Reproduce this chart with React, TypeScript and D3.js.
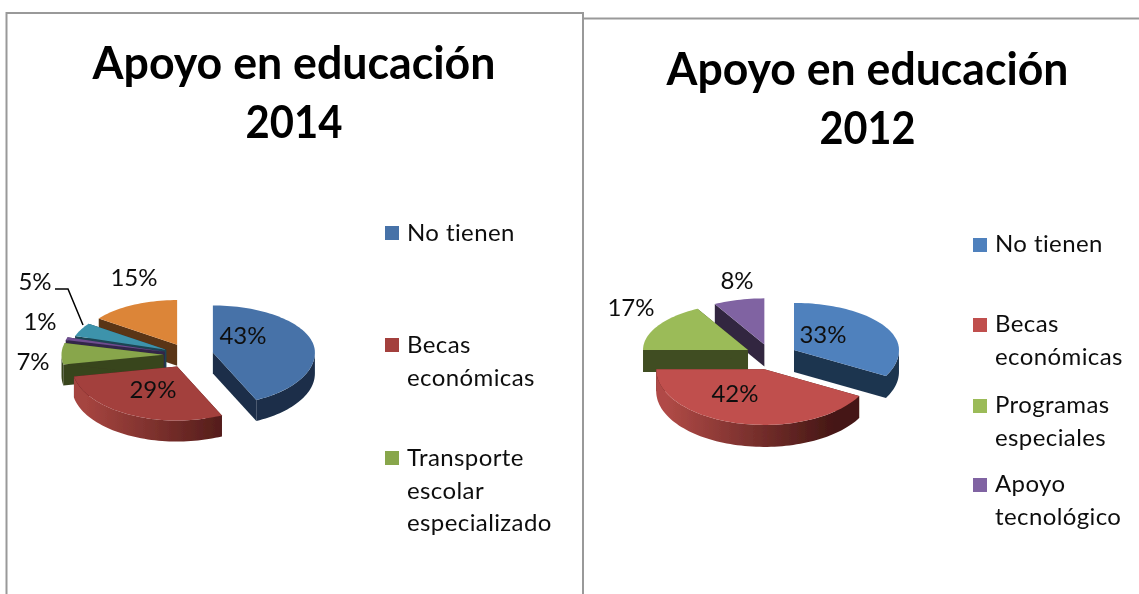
import React from "react";
import * as d3 from "d3";

const title2014 = ["Apoyo en educación", "2014"];
const title2012 = ["Apoyo en educación", "2012"];
const values2014 = [43, 29, 7, 1, 5, 15];
const values2012 = [33, 42, 17, 8];
const labels2014 = ["43%", "29%", "7%", "1%", "5%", "15%"];
const labels2012 = ["33%", "42%", "17%", "8%"];
const legend2014 = [["No tienen"], ["Becas", "económicas"], ["Transporte", "escolar", "especializado"]];
const legend2012 = [["No tienen"], ["Becas", "económicas"], ["Programas", "especiales"], ["Apoyo", "tecnológico"]];

const FONT = "Lato, 'Open Sans', sans-serif";
const W = 1139, H = 594;

type Style = { top: string; side: string };
const styles2014: Style[] = [
  { top: "#4672a8", side: "#1b2f49" },
  { top: "#a33f3d", side: "#4a1a17" },
  { top: "#88a64b", side: "#39441f" },
  { top: "#6e4d8f", side: "#33264a" },
  { top: "#3e93ab", side: "#1d4452" },
  { top: "#dc8539", side: "#5a3415" },
];
const styles2012: Style[] = [
  { top: "#4f81bd", side: "#1f3550" },
  { top: "#c0504d", side: "#4f1c1a" },
  { top: "#9bbb59", side: "#414d21" },
  { top: "#8064a2", side: "#32283f" },
];

type PieCfg = {
  id: string; values: number[]; styles: Style[]; order: number[]; redIndex: number; scale: number[];
  cx: number; cy: number; R: number; ryBack: number; ryFront: number; depth: number; explode: number;
  gradFrom: string; gradTo: string;
};

function Pie3D({ cfg }: { cfg: PieCfg }) {
  const arcs = d3.pie<number>().sort(null).startAngle(0).endAngle(2 * Math.PI)(cfg.values);
  const k = (t: number, r: number) => r * (Math.cos(t) > 0 ? cfg.ryBack : cfg.ryFront) / cfg.R;
  const px = (t: number, r: number) => r * Math.sin(t);
  const py = (t: number, r: number) => -k(t, r) * Math.cos(t);
  const line = d3.line<[number, number]>().curve(d3.curveLinear);
  const samples = (a: number, b: number) => {
    const n = Math.max(2, Math.ceil(((b - a) * 180) / Math.PI / 2));
    return d3.range(n + 1).map((i) => a + ((b - a) * i) / n);
  };
  const pieLeft = cfg.cx - cfg.R, pieRight = cfg.cx + cfg.R * 0.6;
  return (
    <g>
      <defs>
        <linearGradient id={cfg.id} gradientUnits="userSpaceOnUse" x1={pieLeft} x2={pieRight} y1={0} y2={0}>
          <stop offset="0" stopColor={cfg.gradFrom} />
          <stop offset="1" stopColor={cfg.gradTo} />
        </linearGradient>
      </defs>
      {cfg.order.map((i) => {
        const a = arcs[i];
        const mid = (a.startAngle + a.endAngle) / 2;
        const ax = cfg.cx + px(mid, cfg.explode);
        const ay = cfg.cy + py(mid, cfg.explode);
        const r = cfg.R * cfg.scale[i];
        const pt = (t: number, dy = 0): [number, number] => [ax + px(t, r), ay + py(t, r) + dy];
        const d = cfg.depth;
        const quad = (t: number) =>
          line([[ax, ay], pt(t), pt(t, d), [ax, ay + d]]) + "Z";
        const top = line([[ax, ay], ...samples(a.startAngle, a.endAngle).map((t) => pt(t))]) + "Z";
        const from = Math.max(a.startAngle, Math.PI / 2);
        const to = Math.min(a.endAngle, (3 * Math.PI) / 2);
        const wall = from < to
          ? line([
              ...samples(from, to).map((t) => pt(t)),
              ...samples(from, to).reverse().map((t) => pt(t, d)),
            ]) + "Z"
          : null;
        const st = cfg.styles[i];
        return (
          <g key={i}>
            <path d={quad(a.startAngle)} fill={st.side} />
            <path d={quad(a.endAngle)} fill={st.side} />
            {wall && <path d={wall} fill={i === cfg.redIndex ? `url(#${cfg.id})` : st.side} />}
            <path d={top} fill={st.top} />
          </g>
        );
      })}
    </g>
  );
}

const pieA: PieCfg = {
  id: "wallA", values: values2014, styles: styles2014, order: [5, 4, 3, 2, 1, 0], redIndex: 1,
  scale: [1, 1.03, 1, 1, 0.94, 0.95],
  cx: 188.5, cy: 355, R: 102, ryBack: 47, ryFront: 52.5, depth: 21, explode: 25,
  gradFrom: "#a5443f", gradTo: "#431513",
};
const pieB: PieCfg = {
  id: "wallB", values: values2012, styles: styles2012, order: [3, 2, 1, 0], redIndex: 1,
  scale: [1, 1.03, 1, 0.98],
  cx: 771, cy: 356, R: 105, ryBack: 47, ryFront: 54, depth: 22, explode: 26.7,
  gradFrom: "#b04a46", gradTo: "#451715",
};

const labelPosA: [number, number][] = [[243, 336], [153, 390], [33, 362], [40, 322], [35, 282], [134, 278]];
const labelPosB: [number, number][] = [[823, 335], [735, 394], [631, 308], [737, 281]];

function Labels({ labels, pos }: { labels: string[]; pos: [number, number][] }) {
  return (
    <g fontFamily={FONT} fontSize={24} fill="#111" textAnchor="middle">
      {labels.map((l, i) => (
        <text key={i} x={pos[i][0]} y={pos[i][1]} dy="0.35em">{l}</text>
      ))}
    </g>
  );
}

function Legend({ items, colors, x, markY, dy }: { items: string[][]; colors: string[]; x: number; markY: number[]; dy: number }) {
  return (
    <g fontFamily={FONT} fontSize={24} fill="#111">
      {items.map((lines, i) => (
        <g key={i}>
          <rect x={x} y={markY[i]} width={14} height={14} fill={colors[i]} />
          {lines.map((s, j) => (
            <text key={j} x={x + 22} y={markY[i] + dy + j * 32.5} letterSpacing={0.4}>{s}</text>
          ))}
        </g>
      ))}
    </g>
  );
}

function Title({ lines, cx, y0, widths }: { lines: string[]; cx: number; y0: number; widths: number[] }) {
  return (
    <g fontFamily={FONT} fontSize={45} fontWeight={700} fill="#000" textAnchor="middle">
      {lines.map((s, i) => (
        <text key={i} x={cx} y={y0 + i * 59} textLength={widths[i]} lengthAdjust="spacingAndGlyphs">{s}</text>
      ))}
    </g>
  );
}

export default function App() {
  return (
    <svg width={W} height={H} viewBox={`0 0 ${W} ${H}`} style={{ position: "absolute", left: 0, top: 0, display: "block", background: "#fff" }}>
      <defs>
        <filter id="soft" x="0" y="0" width="100%" height="100%" filterUnits="userSpaceOnUse" primitiveUnits="userSpaceOnUse">
          <feGaussianBlur stdDeviation="0.35" />
        </filter>
      </defs>
      <g filter="url(#soft)">
        <g stroke="#999" strokeWidth={2} fill="none">
          <path d={`M6.5 ${H + 5}V13H583V${H + 5}`} />
          <path d={`M583 18.5H${W + 5}`} />
        </g>
        <Title lines={title2014} cx={294} y0={79} widths={[403, 97]} />
        <Title lines={title2012} cx={867.5} y0={85} widths={[402, 96]} />
        <Pie3D cfg={pieA} />
        <Pie3D cfg={pieB} />
        <path d="M55 289H68L83 325" fill="none" stroke="#000" strokeWidth={1.5} />
        <Labels labels={labels2014} pos={labelPosA} />
        <Labels labels={labels2012} pos={labelPosB} />
        <Legend items={legend2014} colors={styles2014.map((s) => s.top)} x={385} markY={[226, 338, 451]} dy={15} />
        <Legend items={legend2012} colors={styles2012.map((s) => s.top)} x={973} markY={[238, 318, 399, 478]} dy={14} />
      </g>
    </svg>
  );
}
